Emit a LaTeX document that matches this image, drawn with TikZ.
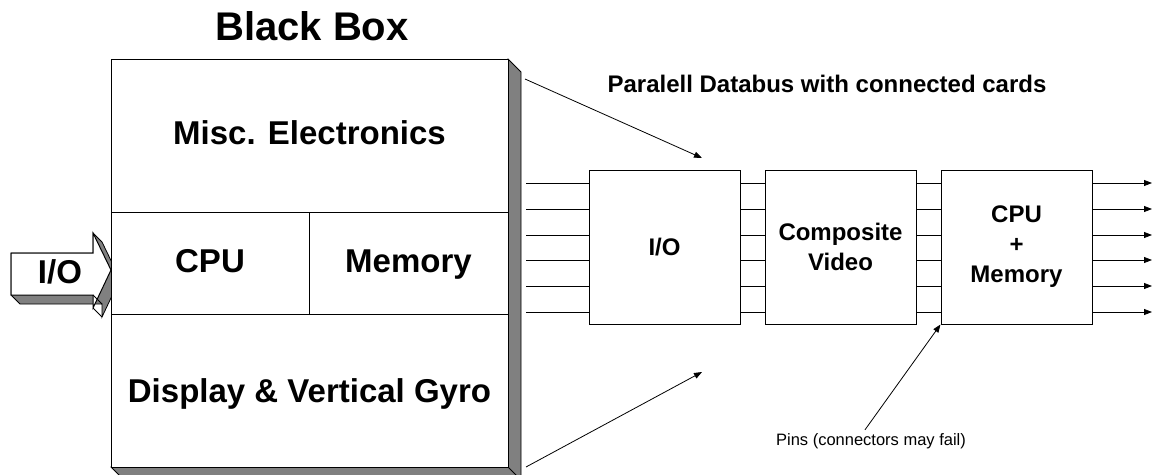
\documentclass[tikz,border=0pt]{standalone}
\usepackage{fontspec}
\setmainfont{Liberation Sans}
\usetikzlibrary{arrows.meta}

\tikzset{
  card/.style={draw, line width=1pt, fill=white, minimum width=151pt, minimum height=154pt,
    inner sep=0pt, align=center, font=\fontsize{24}{30}\selectfont\bfseries},
  part/.style={anchor=base, font=\fontsize{33}{40}\selectfont\bfseries},
  shade/.style={draw, line width=0.8pt, fill=black!50},
  pin/.style={line width=0.8pt},
  ptr/.style={line width=0.8pt, -{Triangle[length=8pt,width=6pt]}},
}

\begin{document}
\begin{tikzpicture}[x=1pt, y=-1pt]
    \useasboundingbox (0,0) rectangle (1154,474);

    % input arrow, extruded
    \filldraw [shade] (11,253) -- (93,253) -- (93,233) -- (102,242) -- (120,279) -- (102,317)
        -- (102,304) -- (20,304) -- (11,295) -- cycle;
    \filldraw [fill=white, line width=1pt] (11,253) -- (93,253) -- (93,233) -- (111,270)
        -- (93,308) -- (93,295) -- (11,295) -- cycle;
    \draw [line width=0.8pt] (93,295) -- (102,304) (93,308) -- (102,317);
    \node [part] (ioin) at (60,283) {I/O};

    % black box with its shadow
    \filldraw [shade] (508,59) -- (521,72) -- (521,480) -- (124,480) -- (111,467) -- cycle;
    \node [draw, line width=1pt, fill=white, minimum width=397pt, minimum height=408pt,
        inner sep=0pt] (blackbox) at (309.5,263) {};
    \draw [line width=0.8pt] (blackbox.south east) -- ++(13,13);
    \draw [line width=1pt] (111,212) -- (508,212) (111,314) -- (508,314) (309,212) -- (309,314);

    \node [font=\fontsize{40}{48}\selectfont\bfseries] (boxtitle) at (312,26) {Black Box};
    \node [part] (misc) at (309.5,144) {Misc. Electronics};
    \node [part] (cpu) at (210,272) {CPU};
    \node [part] (mem) at (408.5,272) {Memory};
    \node [part] (gyro) at (309.5,402) {Display \& Vertical Gyro};

    % databus and cards
    \node [font=\fontsize{24}{29}\selectfont\bfseries] (bustitle) at (827,84)
        {Paralell Databus with connected cards};
    \coordinate (busin) at (526,247);
    \coordinate (busout) at (1152,247);
    \node [card] (io) at (664.5,247) {I/O};
    \node [card] (video) at (840.5,247) {Composite\\Video};
    \node [card] (cpucard) at (1016.5,247) {CPU\\+\\Memory};

    \foreach \y in {183,209,235,260,286,312} {
        \draw [pin] (busin |- 0,\y) -- (io.west |- 0,\y);
        \draw [pin] (io.east |- 0,\y) -- (video.west |- 0,\y);
        \draw [pin] (video.east |- 0,\y) -- (cpucard.west |- 0,\y);
        \draw [ptr] (cpucard.east |- 0,\y) -- (busout |- 0,\y);
    }

    \coordinate (topfrom) at (525,79);
    \coordinate (topto) at (702,158);
    \coordinate (botfrom) at (526,467);
    \coordinate (botto) at (702,372);
    \draw [ptr] (topfrom) -- (topto);
    \draw [ptr] (botfrom) -- (botto);

    \node [font=\fontsize{16.5}{20}\selectfont] (pins) at (871,441) {Pins (connectors may fail)};
    \draw [ptr] ([xshift=-6pt]pins.north) -- (cpucard.south west);
\end{tikzpicture}
\end{document}
